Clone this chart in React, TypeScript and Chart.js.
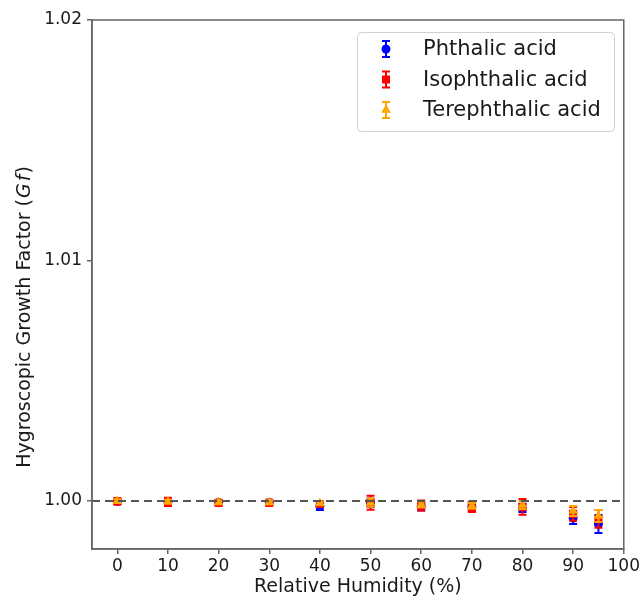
import React, { useEffect, useRef } from "react";
import { Chart, registerables } from "chart.js";

Chart.register(...registerables);

const humidity = [0, 10, 20, 30, 40, 50, 60, 70, 80, 90, 95];

const phthalic = [0.99998, 0.99996, 0.99993, 0.99993, 0.99979, 0.99992, 0.99977, 0.99977, 0.99971, 0.99929, 0.99904];
const phthalicErr = [0.00008, 0.00008, 0.00008, 0.00008, 0.00017, 0.00017, 0.00017, 0.00017, 0.00017, 0.00025, 0.00037];

const isophthalic = [0.99998, 0.99996, 0.99992, 0.99992, 0.99987, 0.99992, 0.99981, 0.99975, 0.99975, 0.99946, 0.99925];
const isophthalicErr = [0.00012, 0.00017, 0.00012, 0.00012, 0.00012, 0.00029, 0.00021, 0.00021, 0.00033, 0.00029, 0.00037];

const terephthalic = [0.99999, 0.99997, 0.99994, 0.99994, 0.9999, 0.99993, 0.99985, 0.99979, 0.99983, 0.99958, 0.99937];
const terephthalicErr = [0.00008, 0.00008, 0.00008, 0.00008, 0.00008, 0.00017, 0.00012, 0.00012, 0.00017, 0.00021, 0.00025];

const seriesNames = ["Phthalic acid", "Isophthalic acid", "Terephthalic acid"];
const seriesColors = ["#0000ff", "#ff0000", "#ffa500"];
const seriesStyles = ["circle", "rect", "triangle"];

const xTicks = [0, 10, 20, 30, 40, 50, 60, 70, 80, 90, 100];
const yTicks = [1.0, 1.01, 1.02];
const xRange = [-5, 100];
const yRange = [0.998, 1.02];
const referenceLevel = 1.0;

const xTitle = "Relative Humidity (%)";
const yTitlePlain = "Hygroscopic Growth Factor (";
const yTitleMath = "Gf";
const yTitleEnd = ")";

const FONT = "'DejaVu Sans', sans-serif";
const FRAME = "#666666";
const TEXT = "#1a1a1a";

function drawMarker(ctx: CanvasRenderingContext2D, style: string, x: number, y: number, color: string) {
  ctx.save();
  ctx.fillStyle = color;
  ctx.beginPath();
  if (style === "circle") {
    ctx.arc(x, y, 4.5, 0, Math.PI * 2);
  } else if (style === "rect") {
    ctx.rect(x - 4, y - 4, 8, 8);
  } else {
    ctx.moveTo(x, y - 5.5);
    ctx.lineTo(x + 4.8, y + 2.8);
    ctx.lineTo(x - 4.8, y + 2.8);
    ctx.closePath();
  }
  ctx.fill();
  ctx.restore();
}

function drawErrBar(ctx: CanvasRenderingContext2D, x: number, yTop: number, yBot: number, color: string) {
  ctx.save();
  ctx.strokeStyle = color;
  ctx.lineWidth = 2;
  ctx.beginPath();
  ctx.moveTo(x, yTop);
  ctx.lineTo(x, yBot);
  ctx.moveTo(x - 4, yTop);
  ctx.lineTo(x + 4, yTop);
  ctx.moveTo(x - 4, yBot);
  ctx.lineTo(x + 4, yBot);
  ctx.stroke();
  ctx.restore();
}

const errorBarPlugin = {
  id: "errorBars",
  beforeDatasetDraw(chart: any, args: any) {
    const ds = chart.data.datasets[args.index];
    if (!ds.errors) return;
    const ctx = chart.ctx;
    const xs = chart.scales.x;
    const ys = chart.scales.y;
    ds.data.forEach((p: any, i: number) => {
      const e = ds.errors[i];
      const px = xs.getPixelForValue(p.x);
      drawErrBar(ctx, px, ys.getPixelForValue(p.y + e), ys.getPixelForValue(p.y - e), ds.backgroundColor);
    });
  },
};

const decorPlugin = {
  id: "decor",
  afterDraw(chart: any) {
    const ctx = chart.ctx as CanvasRenderingContext2D;
    const a = chart.chartArea;
    // frame
    ctx.save();
    ctx.strokeStyle = FRAME;
    ctx.lineWidth = 1.5;
    ctx.strokeRect(a.left, a.top, a.right - a.left, a.bottom - a.top);
    ctx.restore();

    // x title
    ctx.save();
    ctx.fillStyle = TEXT;
    ctx.font = `19px ${FONT}`;
    ctx.textAlign = "center";
    ctx.textBaseline = "middle";
    ctx.fillText(xTitle, (a.left + a.right) / 2, 587);
    ctx.restore();

    // y title with italic math part
    ctx.save();
    ctx.translate(25, 317);
    ctx.rotate(-Math.PI / 2);
    ctx.fillStyle = TEXT;
    ctx.textBaseline = "middle";
    ctx.textAlign = "left";
    const f1 = `19px ${FONT}`;
    const f2 = `italic 19px ${FONT}`;
    ctx.font = f1;
    const w1 = ctx.measureText(yTitlePlain).width;
    const w3 = ctx.measureText(yTitleEnd).width;
    ctx.font = f2;
    const w2 = ctx.measureText(yTitleMath).width + 4;
    const total = w1 + w2 + w3;
    let cx = -total / 2;
    ctx.font = f1;
    ctx.fillText(yTitlePlain, cx, 0);
    cx += w1;
    ctx.font = f2;
    ctx.fillText(yTitleMath[0], cx + 1, 0);
    const gw = ctx.measureText(yTitleMath[0]).width;
    ctx.fillText(yTitleMath.slice(1), cx + 3 + gw, 0);
    cx += w2;
    ctx.font = f1;
    ctx.fillText(yTitleEnd, cx, 0);
    ctx.restore();

    // legend
    const lx = 357, ly = 32, lw = 257, lh = 99;
    ctx.save();
    ctx.fillStyle = "rgba(255,255,255,0.85)";
    ctx.strokeStyle = "#d0d0d0";
    ctx.lineWidth = 1;
    ctx.beginPath();
    (ctx as any).roundRect(lx + 0.5, ly + 0.5, lw, lh, 4);
    ctx.fill();
    ctx.stroke();
    ctx.restore();
    seriesNames.forEach((name, i) => {
      const y = 49 + i * 30.5;
      const mx = 386;
      drawErrBar(ctx, mx, y - 8, y + 8, seriesColors[i]);
      drawMarker(ctx, seriesStyles[i], mx, y, seriesColors[i]);
      ctx.save();
      ctx.fillStyle = TEXT;
      ctx.font = `21px ${FONT}`;
      ctx.textAlign = "left";
      ctx.textBaseline = "middle";
      ctx.fillText(name, 423, y + 1);
      ctx.restore();
    });
  },
};

function toPoints(ys: number[]) {
  return humidity.map((x, i) => ({ x, y: ys[i] }));
}

export default function App() {
  const ref = useRef<HTMLCanvasElement | null>(null);

  useEffect(() => {
    document.body.style.margin = "0";
    const canvas = ref.current;
    if (!canvas) return;
    const values = [phthalic, isophthalic, terephthalic];
    const errs = [phthalicErr, isophthalicErr, terephthalicErr];
    const datasets: any[] = values.map((v, i) => ({
      label: seriesNames[i],
      data: toPoints(v),
      errors: errs[i],
      backgroundColor: seriesColors[i],
      borderColor: seriesColors[i],
      borderWidth: 0,
      pointStyle: seriesStyles[i],
      pointRadius: i === 0 ? 4.5 : i === 1 ? 5.7 : 5.6,
      showLine: false,
      order: 3 - i,
    }));
    datasets.push({
      label: "reference",
      type: "line",
      data: [
        { x: xRange[0], y: referenceLevel },
        { x: xRange[1], y: referenceLevel },
      ],
      borderColor: "#555555",
      borderWidth: 2,
      borderDash: [8, 5],
      pointRadius: 0,
      showLine: true,
      fill: false,
      order: 0,
    });

    const chart = new Chart(canvas, {
      type: "scatter",
      data: { datasets },
      options: {
        animation: false,
        responsive: false,
        devicePixelRatio: 1,
        layout: { padding: { top: 20, right: 16, left: 0, bottom: 0 } },
        plugins: {
          legend: { display: false },
          tooltip: { enabled: false },
        },
        scales: {
          x: {
            type: "linear",
            min: xRange[0],
            max: xRange[1],
            afterBuildTicks: (s: any) => {
              s.ticks = xTicks.map((v) => ({ value: v }));
            },
            afterFit: (s: any) => {
              s.height = 50;
            },
            grid: {
              drawOnChartArea: false,
              drawTicks: true,
              tickLength: 5,
              color: FRAME,
              lineWidth: 1.5,
            },
            border: { display: true, color: FRAME, width: 1.5 },
            ticks: {
              color: TEXT,
              font: { family: FONT, size: 17 },
              padding: 2,
              maxRotation: 0,
              autoSkip: false,
              callback: (v: any) => String(v),
            },
          },
          y: {
            type: "linear",
            min: yRange[0],
            max: yRange[1],
            afterBuildTicks: (s: any) => {
              s.ticks = yTicks.map((v) => ({ value: v }));
            },
            afterFit: (s: any) => {
              s.width = 92;
            },
            grid: {
              drawOnChartArea: false,
              drawTicks: true,
              tickLength: 5,
              color: FRAME,
              lineWidth: 1.5,
            },
            border: { display: true, color: FRAME, width: 1.5 },
            ticks: {
              color: TEXT,
              font: { family: FONT, size: 17 },
              padding: 5,
              autoSkip: false,
              callback: (v: any) => Number(v).toFixed(2),
            },
          },
        },
      } as any,
      plugins: [errorBarPlugin, decorPlugin],
    });
    return () => chart.destroy();
  }, []);

  return (
    <div style={{ width: 642, height: 599 }}>
      <canvas ref={ref} width={642} height={599} style={{ display: "block" }} />
    </div>
  );
}
